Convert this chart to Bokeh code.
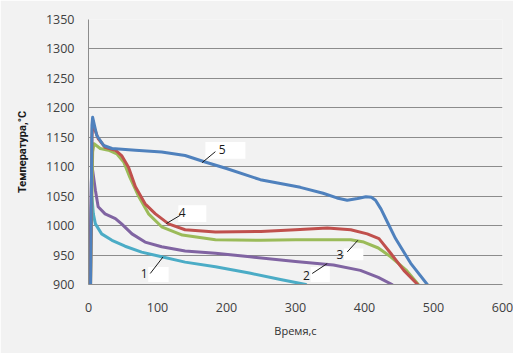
from bokeh.plotting import figure
from bokeh.models import Range1d, Label, FixedTicker
from bokeh.embed import file_html
from bokeh.resources import INLINE

# ---- data (time, s ; temperature, °C) ----
t1 = [1, 4, 5, 7, 10, 19, 34, 53, 77, 106, 140, 184, 235, 280, 315]
T1 = [900, 1030, 1049, 1020, 1003, 986, 975, 965, 955, 947, 938, 930, 919, 908, 900]

t2 = [2, 4, 5, 10, 14, 24, 39, 48, 63, 82, 106, 140, 184, 234, 300, 355, 394, 420, 440]
T2 = [900, 1070, 1102, 1060, 1032, 1020, 1012, 1003, 986, 972, 964, 957, 953, 947, 939, 933, 924, 912, 900]

t3 = [3, 6, 8, 17, 29, 41, 51, 60, 73, 87, 106, 136, 184, 250, 300, 380, 399, 420, 438, 460, 478]
T3 = [900, 1125, 1139, 1131, 1128, 1122, 1108, 1082, 1049, 1020, 998, 984, 976, 975, 976, 976, 972, 962, 947, 925, 900]

t4 = [3, 5, 6, 14, 24, 39, 48, 58, 68, 82, 97, 116, 140, 184, 250, 300, 346, 380, 404, 421, 438, 457, 477]
T4 = [900, 1150, 1173, 1148, 1133, 1128, 1119, 1099, 1066, 1037, 1020, 1003, 993, 989, 990, 993, 996, 993, 986, 978, 953, 924, 900]

t5 = [3, 5, 6, 12, 22, 34, 68, 106, 140, 169, 200, 249, 307, 340, 360, 375, 390, 402, 410, 416, 424, 434, 445, 467, 491]
T5 = [900, 1170, 1184, 1153, 1136, 1131, 1128, 1125, 1119, 1108, 1097, 1078, 1065, 1055, 1047, 1043, 1046, 1049, 1048, 1043, 1028, 1004, 978, 936, 900]

x_ticks = [0, 100, 200, 300, 400, 500, 600]
y_ticks = [900, 950, 1000, 1050, 1100, 1150, 1200, 1250, 1300, 1350]

series = [
    (t1, T1, "#4bacc6"),
    (t2, T2, "#8064a2"),
    (t3, T3, "#9bbb59"),
    (t4, T4, "#c0504d"),
    (t5, T5, "#4f81bd"),
]

# curve labels: text, text pos, leader line, white box
curve_labels = ["1", "2", "3", "4", "5"]
label_pos = [(80.8, 918.7), (316, 915.8), (364.3, 950.9), (135.6, 1023.1), (193.6, 1129.5)]
leader_from = [(89.5, 918.7), (324.2, 918.7), (375, 955.3), (112.8, 1003.5), (164.6, 1106.9)]
leader_to = [(108, 946.8), (346, 935.6), (390.4, 975.1), (133.1, 1017.6), (183.9, 1125.6)]
box_lr = [(86.6, 116.1), (322, 349.8), (370.1, 398.3), (130.2, 170.8), (169.4, 227.4)]
box_tb = [(929.9, 904.4), (929.9, 904.4), (961.1, 941.2), (1034.5, 1006.2), (1141.9, 1113.7)]

BG = "#f2f2f2"
FONT = "Open Sans"

p = figure(width=513, height=353, output_backend="svg", toolbar_location=None,
           x_range=Range1d(0, 600), y_range=Range1d(900, 1350),
           min_border_left=88, min_border_right=11, min_border_top=19, min_border_bottom=69)
p.background_fill_color = BG
p.border_fill_color = BG
p.outline_line_color = None

p.xgrid.grid_line_color = None
p.ygrid.grid_line_color = "#8c8c8c"
p.ygrid.grid_line_width = 1.2
p.xaxis.ticker = FixedTicker(ticks=x_ticks)
p.yaxis.ticker = FixedTicker(ticks=y_ticks)

for ax in (p.xaxis[0], p.yaxis[0]):
    ax.major_tick_line_color = None
    ax.minor_tick_line_color = None
    ax.major_label_text_font = FONT
    ax.major_label_text_font_size = "12.5px"
    ax.major_label_text_color = "#404040"
p.xaxis.axis_line_color = "#8c8c8c"
p.yaxis.axis_line_color = "#8c8c8c"
p.xaxis.major_label_standoff = 12
p.yaxis.major_label_standoff = 8

p.xaxis.axis_label = "Время,с"
p.xaxis.axis_label_text_font = FONT
p.xaxis.axis_label_text_font_size = "11px"
p.xaxis.axis_label_text_font_style = "normal"
p.xaxis.axis_label_text_color = "#303030"
p.xaxis.axis_label_standoff = 8

p.yaxis.axis_label = "Температура,°C"
p.yaxis.axis_label_text_font = "Roboto"
p.yaxis.axis_label_text_font_size = "11px"
p.yaxis.axis_label_text_font_style = "bold"
p.yaxis.axis_label_text_color = "#1a1a1a"
p.yaxis.axis_label_standoff = 14

for tx, ty, col in series:
    p.line(tx, ty, line_color=col, line_width=3, line_join="round", line_cap="round")

for i, txt in enumerate(curve_labels):
    l, r = box_lr[i]
    tp, bt = box_tb[i]
    p.quad(left=[l], right=[r], top=[tp], bottom=[bt], fill_color="white", line_color=None)
    p.segment(x0=[leader_from[i][0]], y0=[leader_from[i][1]],
              x1=[leader_to[i][0]], y1=[leader_to[i][1]], line_color="#1a1a1a", line_width=1)
    p.add_layout(Label(x=label_pos[i][0], y=label_pos[i][1], text=txt,
                       text_font=FONT, text_font_size="12px", text_color="#1a1a1a",
                       text_align="center", text_baseline="middle"))

open("out.html", "w").write(file_html(p, INLINE))
